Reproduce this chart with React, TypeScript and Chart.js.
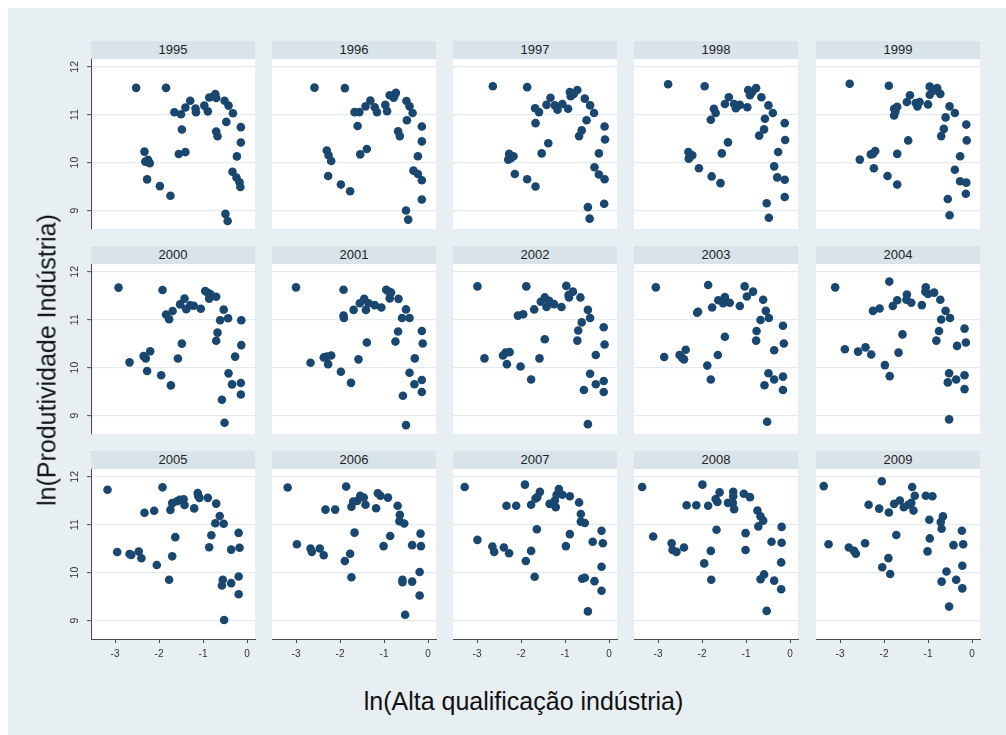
import React, { useEffect, useRef } from "react";
import { Chart, registerables } from "chart.js";
Chart.register(...registerables);

// ---------- data ----------
const years = [1995, 1996, 1997, 1998, 1999, 2000, 2001, 2002, 2003, 2004, 2005, 2006, 2007, 2008, 2009];
const xTicks = [-3, -2, -1, 0];
const yTicks = [9, 10, 11, 12];

const x1995 = [-2.52, -1.84, -1.65, -1.50, -1.40, -1.29, -1.17, -1.16, -0.97, -0.89, -0.86, -0.76, -0.72, -0.70, -0.51, -0.42, -0.32, -0.47, -0.70, -0.67, -1.48, -1.55, -1.40, -2.33, -2.31, -2.21, -2.25, -2.27, -1.98, -1.74, -0.14, -0.14, -0.23, -0.33, -0.24, -0.17, -0.15, -0.49, -0.44];
const y1995 = [11.56, 11.56, 11.05, 11.01, 11.15, 11.29, 11.13, 11.05, 11.19, 11.07, 11.36, 11.38, 11.43, 11.35, 11.29, 11.19, 11.03, 10.85, 10.65, 10.55, 10.69, 10.18, 10.22, 10.23, 10.02, 9.99, 10.06, 9.65, 9.51, 9.31, 10.74, 10.42, 10.13, 9.81, 9.69, 9.59, 9.49, 8.93, 8.78];

const x1996 = [-2.58, -1.89, -1.67, -1.56, -1.42, -1.31, -1.21, -1.16, -0.97, -0.93, -0.87, -0.76, -0.73, -0.78, -0.49, -0.42, -0.35, -0.48, -0.68, -0.64, -1.60, -1.54, -1.39, -2.30, -2.26, -2.20, -2.27, -1.98, -1.77, -0.14, -0.14, -0.23, -0.33, -0.23, -0.14, -0.14, -0.50, -0.45];
const y1996 = [11.56, 11.55, 11.05, 11.05, 11.17, 11.29, 11.15, 11.05, 11.20, 11.07, 11.40, 11.40, 11.45, 11.35, 11.28, 11.17, 11.03, 10.88, 10.65, 10.55, 10.76, 10.17, 10.28, 10.25, 10.15, 10.03, 9.72, 9.54, 9.40, 10.75, 10.44, 10.13, 9.83, 9.76, 9.63, 9.23, 9.00, 8.81];

const x1997 = [-2.64, -1.86, -1.68, -1.59, -1.67, -1.42, -1.33, -1.23, -1.17, -1.06, -0.93, -0.89, -0.87, -0.80, -0.72, -0.55, -0.43, -0.34, -0.51, -0.62, -0.68, -1.38, -1.53, -2.27, -2.23, -2.29, -2.17, -2.14, -1.86, -1.67, -0.10, -0.09, -0.23, -0.33, -0.23, -0.10, -0.11, -0.48, -0.44];
const y1997 = [11.59, 11.57, 11.13, 11.05, 10.82, 11.20, 11.35, 11.19, 11.10, 11.22, 11.12, 11.47, 11.38, 11.43, 11.51, 11.33, 11.19, 11.03, 10.88, 10.67, 10.55, 10.40, 10.19, 10.18, 10.09, 10.06, 10.13, 9.76, 9.65, 9.50, 10.75, 10.48, 10.19, 9.90, 9.75, 9.65, 9.14, 9.07, 8.83];

const x1998 = [-2.77, -1.94, -1.73, -1.69, -1.80, -1.48, -1.39, -1.27, -1.23, -1.14, -0.97, -0.95, -0.91, -0.86, -0.77, -0.65, -0.49, -0.39, -0.57, -0.59, -0.70, -1.41, -1.55, -2.31, -2.28, -2.22, -2.30, -2.07, -1.78, -1.58, -0.12, -0.11, -0.27, -0.36, -0.29, -0.12, -0.12, -0.53, -0.48];
const y1998 = [11.63, 11.59, 11.12, 11.03, 10.89, 11.22, 11.36, 11.22, 11.13, 11.20, 11.15, 11.51, 11.40, 11.47, 11.55, 11.36, 11.19, 11.03, 10.91, 10.69, 10.56, 10.42, 10.19, 10.22, 10.11, 10.15, 10.08, 9.88, 9.71, 9.57, 10.82, 10.47, 10.22, 9.92, 9.69, 9.64, 9.28, 9.15, 8.85];

const x1999 = [-2.78, -1.89, -1.77, -1.74, -1.77, -1.70, -1.48, -1.41, -1.28, -1.24, -1.19, -1.00, -0.96, -0.96, -0.85, -0.79, -0.72, -0.51, -0.39, -0.60, -0.64, -0.70, -1.45, -1.70, -2.30, -2.25, -2.20, -2.55, -2.23, -1.92, -1.70, -0.13, -0.12, -0.27, -0.39, -0.27, -0.13, -0.14, -0.55, -0.51];
const y1999 = [11.64, 11.60, 11.12, 11.06, 10.98, 11.16, 11.26, 11.40, 11.24, 11.17, 11.26, 11.21, 11.58, 11.41, 11.50, 11.55, 11.43, 11.17, 11.03, 10.94, 10.70, 10.55, 10.46, 10.18, 10.17, 10.18, 10.24, 10.06, 9.88, 9.72, 9.54, 10.79, 10.46, 10.13, 9.85, 9.61, 9.58, 9.35, 9.24, 8.90];

const x2000 = [-2.92, -2.67, -2.35, -2.30, -2.20, -2.27, -1.95, -1.73, -1.92, -1.84, -1.77, -1.69, -1.52, -1.42, -1.38, -1.29, -1.21, -1.05, -0.95, -0.89, -0.83, -0.86, -0.70, -0.53, -0.61, -0.43, -0.67, -0.70, -1.48, -1.57, -0.13, -0.13, -0.27, -0.42, -0.34, -0.14, -0.14, -0.57, -0.51];
const y2000 = [11.67, 10.11, 10.24, 10.19, 10.34, 9.93, 9.84, 9.63, 11.62, 11.11, 11.01, 11.18, 11.32, 11.44, 11.22, 11.30, 11.29, 11.23, 11.60, 11.56, 11.53, 11.44, 11.48, 11.21, 10.99, 11.03, 10.73, 10.56, 10.50, 10.19, 10.99, 10.47, 10.23, 9.88, 9.65, 9.68, 9.44, 9.33, 8.85];

const x2001 = [-3.00, -2.67, -2.37, -2.30, -2.20, -2.27, -1.98, -1.75, -1.92, -1.92, -1.91, -1.69, -1.55, -1.45, -1.41, -1.35, -1.21, -1.06, -0.95, -0.89, -0.84, -0.87, -0.67, -0.50, -0.59, -0.42, -0.68, -0.74, -1.39, -1.58, -0.14, -0.12, -0.30, -0.42, -0.31, -0.14, -0.14, -0.57, -0.50];
const y2001 = [11.67, 10.10, 10.21, 10.23, 10.25, 10.07, 9.91, 9.68, 11.62, 11.08, 11.03, 11.20, 11.34, 11.43, 11.20, 11.34, 11.30, 11.25, 11.62, 11.58, 11.56, 11.44, 11.43, 11.21, 11.03, 11.03, 10.75, 10.54, 10.52, 10.17, 10.76, 10.50, 10.19, 9.89, 9.65, 9.74, 9.49, 9.41, 8.80];

const x2002 = [-2.99, -2.83, -2.41, -2.35, -2.26, -2.32, -2.01, -1.77, -1.88, -2.07, -1.95, -1.70, -1.55, -1.46, -1.42, -1.36, -1.25, -1.08, -0.97, -0.92, -0.82, -0.91, -0.65, -0.48, -0.43, -0.62, -0.70, -0.72, -1.46, -1.58, -0.12, -0.10, -0.30, -0.43, -0.30, -0.12, -0.12, -0.57, -0.48];
const y2002 = [11.69, 10.19, 10.25, 10.31, 10.32, 10.07, 10.02, 9.75, 11.69, 11.08, 11.11, 11.21, 11.37, 11.46, 11.26, 11.39, 11.32, 11.26, 11.70, 11.51, 11.58, 11.46, 11.46, 11.20, 11.03, 10.94, 10.77, 10.56, 10.59, 10.19, 10.84, 10.48, 10.26, 9.87, 9.65, 9.72, 9.49, 9.53, 8.82];

const x2003 = [-3.05, -2.86, -2.51, -2.45, -2.37, -2.41, -1.88, -1.80, -1.86, -2.11, -2.09, -1.77, -1.63, -1.48, -1.52, -1.37, -1.14, -1.03, -0.98, -0.84, -0.61, -0.55, -0.48, -0.67, -0.76, -0.77, -1.48, -1.64, -0.16, -0.14, -0.36, -0.49, -0.36, -0.16, -0.16, -0.58, -0.52];
const y2003 = [11.67, 10.22, 10.26, 10.20, 10.37, 10.17, 10.04, 9.75, 11.72, 11.14, 11.16, 11.25, 11.40, 11.47, 11.34, 11.35, 11.28, 11.69, 11.48, 11.58, 11.41, 11.18, 11.03, 10.99, 10.76, 10.56, 10.64, 10.26, 10.87, 10.50, 10.36, 9.88, 9.75, 9.81, 9.53, 9.63, 8.87];

const x2004 = [-3.11, -2.89, -2.59, -2.42, -2.29, -1.98, -1.87, -1.88, -2.25, -2.10, -1.80, -1.70, -1.48, -1.49, -1.38, -1.14, -1.05, -1.06, -1.00, -0.86, -0.72, -0.60, -0.50, -0.70, -0.75, -0.81, -1.58, -1.67, -0.17, -0.14, -0.34, -0.52, -0.36, -0.17, -0.55, -0.17, -0.52];
const y2004 = [11.67, 10.38, 10.33, 10.42, 10.27, 10.05, 9.82, 11.79, 11.18, 11.23, 11.28, 11.40, 11.52, 11.41, 11.35, 11.30, 11.67, 11.58, 11.53, 11.56, 11.41, 11.18, 11.03, 11.00, 10.76, 10.56, 10.69, 10.31, 10.81, 10.52, 10.45, 9.88, 9.75, 9.84, 9.69, 9.55, 8.92];

const x2005 = [-3.17, -2.95, -2.67, -2.63, -2.46, -2.40, -2.05, -1.77, -2.33, -2.11, -1.92, -1.74, -1.70, -1.59, -1.53, -1.44, -1.42, -1.20, -1.12, -1.11, -1.08, -0.89, -0.70, -0.62, -0.72, -0.53, -0.81, -0.86, -1.63, -1.70, -0.19, -0.17, -0.36, -0.55, -0.57, -0.36, -0.19, -0.19, -0.52];
const y2005 = [11.73, 10.43, 10.39, 10.37, 10.44, 10.30, 10.16, 9.85, 11.25, 11.29, 11.78, 11.31, 11.45, 11.49, 11.52, 11.53, 11.41, 11.34, 11.66, 11.60, 11.56, 11.56, 11.44, 11.18, 11.03, 11.02, 10.78, 10.53, 10.74, 10.34, 10.83, 10.52, 10.48, 9.85, 9.73, 9.78, 9.92, 9.55, 9.01];

const x2006 = [-3.19, -2.98, -2.67, -2.64, -2.46, -2.37, -1.89, -1.74, -2.33, -2.11, -1.86, -1.74, -1.70, -1.61, -1.54, -1.46, -1.42, -1.18, -1.14, -1.08, -0.91, -0.69, -0.64, -0.65, -0.54, -0.86, -1.01, -1.67, -1.77, -0.17, -0.16, -0.36, -0.58, -0.58, -0.36, -0.19, -0.19, -0.52];
const y2006 = [11.77, 10.59, 10.50, 10.43, 10.50, 10.36, 10.24, 9.90, 11.31, 11.31, 11.79, 11.37, 11.48, 11.49, 11.60, 11.56, 11.41, 11.34, 11.65, 11.60, 11.56, 11.39, 11.20, 11.07, 11.02, 10.76, 10.55, 10.83, 10.39, 10.81, 10.55, 10.57, 9.85, 9.80, 9.81, 10.01, 9.52, 9.12];

const x2007 = [-3.28, -2.99, -2.65, -2.61, -2.39, -2.27, -1.89, -1.69, -2.33, -2.11, -1.91, -1.77, -1.67, -1.57, -1.63, -1.35, -1.21, -1.23, -1.19, -1.14, -1.06, -0.89, -0.68, -0.64, -0.64, -0.55, -0.89, -0.98, -1.64, -1.77, -0.17, -0.14, -0.37, -0.61, -0.55, -0.33, -0.17, -0.17, -0.48];
const y2007 = [11.78, 10.68, 10.54, 10.43, 10.52, 10.40, 10.24, 9.91, 11.39, 11.39, 11.83, 11.41, 11.54, 11.68, 11.57, 11.43, 11.36, 11.50, 11.62, 11.74, 11.62, 11.59, 11.46, 11.22, 11.06, 11.03, 10.80, 10.55, 10.90, 10.45, 10.87, 10.61, 10.64, 9.87, 9.89, 9.82, 10.12, 9.62, 9.19];

const x2008 = [-3.36, -3.11, -2.69, -2.67, -2.58, -2.41, -1.95, -1.79, -2.35, -2.13, -1.99, -1.86, -1.69, -1.65, -1.60, -1.41, -1.29, -1.29, -1.30, -1.27, -1.05, -0.91, -0.74, -0.67, -0.61, -0.72, -1.01, -1.01, -1.67, -1.80, -0.19, -0.19, -0.42, -0.67, -0.59, -0.36, -0.20, -0.20, -0.53];
const y2008 = [11.78, 10.75, 10.61, 10.47, 10.43, 10.52, 10.19, 9.85, 11.40, 11.40, 11.83, 11.39, 11.53, 11.47, 11.67, 11.45, 11.68, 11.59, 11.45, 11.32, 11.64, 11.57, 11.29, 11.17, 11.08, 10.96, 10.82, 10.47, 10.89, 10.45, 10.95, 10.62, 10.64, 9.86, 9.96, 9.83, 10.21, 9.65, 9.20];

const x2009 = [-3.37, -3.26, -2.80, -2.68, -2.64, -2.43, -2.04, -1.90, -1.86, -2.35, -2.11, -2.05, -1.89, -1.77, -1.64, -1.55, -1.45, -1.38, -1.36, -1.30, -1.33, -1.05, -0.90, -0.97, -0.66, -0.71, -0.69, -1.72, -0.96, -1.01, -0.23, -0.20, -0.42, -0.58, -0.69, -0.36, -0.22, -0.22, -0.52];
const y2009 = [11.80, 10.59, 10.52, 10.45, 10.39, 10.61, 10.11, 10.30, 9.97, 11.41, 11.33, 11.90, 11.25, 11.43, 11.50, 11.36, 11.41, 11.45, 11.78, 11.60, 11.29, 11.60, 11.59, 11.10, 11.17, 11.05, 10.91, 10.78, 10.71, 10.44, 10.87, 10.59, 10.57, 10.02, 9.81, 9.85, 10.14, 9.67, 9.29];

const xData = [x1995, x1996, x1997, x1998, x1999, x2000, x2001, x2002, x2003, x2004, x2005, x2006, x2007, x2008, x2009];
const yData = [y1995, y1996, y1997, y1998, y1999, y2000, y2001, y2002, y2003, y2004, y2005, y2006, y2007, y2008, y2009];

const xTitle = "ln(Alta qualificação indústria)";
const yTitle = "ln(Produtividade Indústria)";

// ---------- layout / style ----------
const FONT = "'Liberation Sans', Arial, Helvetica, sans-serif";
const NAVY = "#1a476f";
const OUTER_BG = "#e8eff2";
const HEADER_BG = "#d8e4ea";
const GRID = "#e3ebee";
const AXIS = "#4a4a4a";

const PLOT_LEFT = [91, 272, 453, 634, 816];
const PLOT_TOP = [59, 264, 469];
const HEADER_TOP = [41, 246, 451];
const HEADER_H = 18;
const PLOT_W = 164;
const PLOT_H = 170;
const AX_W = 40;
const AX_H = 32;
const PAD = 12;

const XMIN = -156 / 44;
const XMAX = XMIN + PLOT_W / 44;
const YMAX = 12 + 7.5 / 48;
const YMIN = YMAX - PLOT_H / 48;

Chart.defaults.font.family = FONT;

function Panel({ idx }: { idx: number }) {
  const ref = useRef<HTMLCanvasElement | null>(null);
  const col = idx % 5;
  const row = Math.floor(idx / 5);
  const isLeft = col === 0;
  const isBottom = row === 2;
  const left = PLOT_LEFT[col];
  const top = PLOT_TOP[row];
  const cw = AX_W + PLOT_W + PAD;
  const ch = PAD + PLOT_H + AX_H;

  useEffect(() => {
    if (!ref.current) return;
    const xs = xData[idx];
    const ys = yData[idx];
    const n = Math.min(xs.length, ys.length);
    const pts = [] as { x: number; y: number }[];
    for (let i = 0; i < n; i++) pts.push({ x: xs[i], y: ys[i] });
    const chart = new Chart(ref.current, {
      type: "scatter",
      data: {
        datasets: [
          {
            data: pts,
            backgroundColor: NAVY,
            borderColor: NAVY,
            borderWidth: 0,
            pointRadius: 4.3,
            pointHoverRadius: 4.3,
          },
        ],
      },
      options: {
        animation: false,
        responsive: false,
        maintainAspectRatio: false,
        events: [],
        layout: { padding: { top: PAD, right: PAD, left: 0, bottom: 0 } },
        plugins: { legend: { display: false }, tooltip: { enabled: false }, title: { display: false } },
        scales: {
          x: {
            type: "linear",
            min: XMIN,
            max: XMAX,
            afterBuildTicks: (s: any) => {
              s.ticks = xTicks.map((v) => ({ value: v }));
            },
            afterFit: (s: any) => {
              s.height = AX_H;
            },
            grid: { display: isBottom, drawOnChartArea: false, drawTicks: isBottom, tickLength: 4, tickColor: AXIS, tickWidth: 1 },
            border: { display: isBottom, color: AXIS, width: 1 },
            ticks: {
              display: isBottom,
              color: "#333",
              font: { size: 10, family: FONT },
              padding: 5,
              minRotation: 0,
              maxRotation: 0,
              callback: (v: any) => String(v),
            },
          },
          y: {
            type: "linear",
            min: YMIN,
            max: YMAX,
            afterBuildTicks: (s: any) => {
              s.ticks = yTicks.map((v) => ({ value: v }));
            },
            afterFit: (s: any) => {
              s.width = AX_W;
            },
            grid: { color: GRID, lineWidth: 1.3, drawTicks: isLeft, tickLength: 4, tickColor: AXIS, tickWidth: 1 },
            border: { display: isLeft, color: AXIS, width: 1 },
            ticks: {
              display: isLeft,
              color: "#333",
              font: { size: 10.5, family: FONT },
              padding: 6,
              minRotation: 90,
              maxRotation: 90,
              crossAlign: "center",
              callback: (v: any) => String(v),
            },
          },
        },
      } as any,
    });
    return () => chart.destroy();
  }, [idx]);

  return (
    <canvas
      ref={ref}
      width={cw}
      height={ch}
      style={{ position: "absolute", left: left - AX_W, top: top - PAD, width: cw, height: ch }}
    />
  );
}

function Frame({ idx }: { idx: number }) {
  const col = idx % 5;
  const row = Math.floor(idx / 5);
  const left = PLOT_LEFT[col];
  return (
    <>
      <div
        style={{
          position: "absolute",
          left,
          top: HEADER_TOP[row],
          width: PLOT_W,
          height: HEADER_H,
          background: HEADER_BG,
          font: `13px ${FONT}`,
          lineHeight: `${HEADER_H}px`,
          textAlign: "center",
          color: "#222",
        }}
      >
        {years[idx]}
      </div>
      <div style={{ position: "absolute", left, top: PLOT_TOP[row], width: PLOT_W, height: PLOT_H, background: "#ffffff" }} />
    </>
  );
}

export default function App() {
  return (
    <div style={{ position: "fixed", left: 0, top: 0, width: 1006, height: 735, background: "#ffffff", overflow: "hidden" }}>
      <div style={{ position: "absolute", left: 8, top: 8, width: 998, height: 727, background: OUTER_BG }} />
      {years.map((y, i) => (
        <Frame key={"f" + y} idx={i} />
      ))}
      {years.map((y, i) => (
        <Panel key={"p" + y} idx={i} />
      ))}
      <div
        style={{
          position: "absolute",
          left: 47,
          top: 360,
          transform: "translate(-50%, -50%) rotate(-90deg)",
          font: `25px ${FONT}`,
          lineHeight: "25px",
          whiteSpace: "nowrap",
          color: "#111",
        }}
      >
        {yTitle}
      </div>
      <div
        style={{
          position: "absolute",
          left: 523.5,
          top: 701,
          transform: "translate(-50%, -50%)",
          font: `25px ${FONT}`,
          lineHeight: "25px",
          whiteSpace: "nowrap",
          color: "#111",
        }}
      >
        {xTitle}
      </div>
    </div>
  );
}
